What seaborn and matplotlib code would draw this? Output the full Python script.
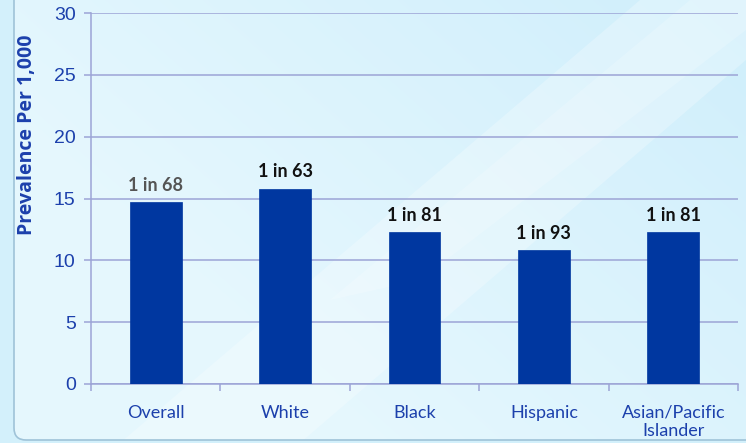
import numpy as np
import pandas as pd
import matplotlib
matplotlib.use("Agg")
import matplotlib.pyplot as plt
from matplotlib.patches import FancyBboxPatch, Polygon
import seaborn as sns

categories = ["Overall", "White", "Black", "Hispanic", "Asian/Pacific\nIslander"]
prevalence = [14.7, 15.8, 12.3, 10.8, 12.3]
bar_labels = ["1 in 68", "1 in 63", "1 in 81", "1 in 93", "1 in 81"]
label_colors = ["#555555", "#111111", "#111111", "#111111", "#111111"]
y_ticks = [0, 5, 10, 15, 20, 25, 30]

sns.set_theme(style="white")
plt.rcParams["font.family"] = ["Liberation Sans", "DejaVu Sans"]

W, H = 746, 443
fig = plt.figure(figsize=(W / 100, H / 100), dpi=100)
fig.patch.set_facecolor("#d3f0fb")

# background panel with a soft diagonal gradient
bg = fig.add_axes([0, 0, 1, 1], zorder=-10)
bg.set_xlim(0, W)
bg.set_ylim(H, 0)
bg.axis("off")
yy, xx = np.mgrid[0:H, 0:W]
d = (xx / W) * 0.6 + (yy / H) * -0.4
c1 = np.array([0.90, 0.97, 0.995])
c2 = np.array([0.80, 0.93, 0.985])
t = np.clip((d + 0.1) / 0.8, 0, 1)[..., None]
img = c1 * (1 - t) + c2 * t
panel = FancyBboxPatch((14, -20), W + 20, 460, boxstyle="round,pad=0,rounding_size=12",
                       facecolor="none", edgecolor="#9fc3d8", linewidth=1.2, zorder=3)
im = bg.imshow(img, extent=(0, W, H, 0), aspect="auto", zorder=1)
clip = FancyBboxPatch((14, -20), W + 20, 460, boxstyle="round,pad=0,rounding_size=12",
                      transform=bg.transData, facecolor="none", edgecolor="none")
bg.add_patch(clip)
im.set_clip_path(clip)
for pts, a in [([(120, 443), (300, 443), (746, 60), (746, -10), (640, 0)], 0.25),
               ([(330, 300), (420, 280), (746, 30), (746, 0), (690, 0)], 0.18)]:
    p = Polygon(pts, closed=True, facecolor="white", edgecolor="none", alpha=a, zorder=2)
    bg.add_patch(p)
    p.set_clip_path(clip)
bg.add_patch(panel)

ax = fig.add_axes([91 / W, 1 - 384 / H, (738 - 91) / W, (384 - 13) / H])
ax.set_facecolor("none")

df = pd.DataFrame({"category": categories, "prevalence": prevalence})
sns.barplot(data=df, x="category", y="prevalence", color="#0037a0", width=0.4,
            saturation=1, ax=ax, zorder=3, edgecolor="#0037a0", linewidth=0.5)

grid_c = "#9ca4d6"
ax.set_ylim(0, 30)
ax.set_xlim(-0.5, len(categories) - 0.5)
ax.set_yticks(y_ticks)
ax.yaxis.grid(True, color=grid_c, linewidth=1.1, zorder=0)
ax.set_axisbelow(True)
for s in ["top", "right"]:
    ax.spines[s].set_visible(False)
for s in ["left", "bottom"]:
    ax.spines[s].set_color(grid_c)
    ax.spines[s].set_linewidth(1.1)

ax.tick_params(axis="y", which="major", left=True, length=5, width=1.1, color=grid_c,
               labelsize=14, labelcolor="#1c40ac", pad=6)
ax.set_xticks(range(len(categories)))
ax.set_xticklabels(categories, fontfamily=["Lato", "DejaVu Sans"], fontsize=13,
                   color="#1c40ac", linespacing=1.2)
ax.tick_params(axis="x", which="major", bottom=False, pad=9)
ax.set_xticks(np.arange(-0.5, len(categories), 1.0), minor=True)
ax.tick_params(axis="x", which="minor", bottom=True, length=5, width=1.1, color=grid_c)

ax.set_xlabel("")
ax.set_ylabel("Prevalence Per 1,000", fontfamily=["Open Sans", "DejaVu Sans"], fontweight="bold",
              fontsize=14, color="#1c40ac")
ax.yaxis.set_label_coords((37 - 91) / 647, (384 - 135) / 371)

for i, (v, lab, col) in enumerate(zip(prevalence, bar_labels, label_colors)):
    ax.annotate(lab, (i, v), xytext=(0, 6), textcoords="offset points", ha="center",
                va="bottom", fontsize=13, fontweight="bold", color=col,
                fontfamily=["Lato", "DejaVu Sans"], zorder=5)

fig.savefig("out.png", dpi=100, facecolor=fig.get_facecolor())
